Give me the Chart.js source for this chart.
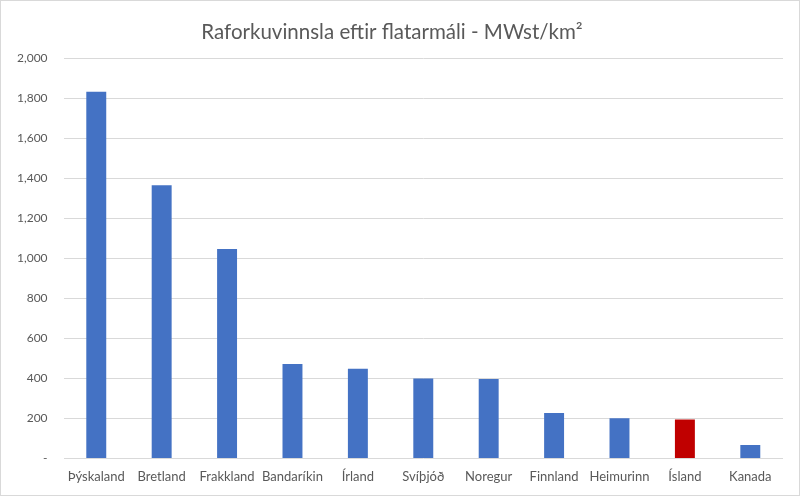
<!DOCTYPE html>
<html>
<head>
<meta charset="utf-8">
<script src="https://cdn.jsdelivr.net/npm/chart.js@4"></script>
<style>
  html, body { margin: 0; padding: 0; background: #fff; }
  #wrap { width: 798px; height: 494px; border: 1px solid #d9d9d9; }
  canvas { display: block; }
</style>
</head>
<body>
<div id="wrap"><canvas id="chart" width="798" height="494"></canvas></div>
<script>
// Power generation per area, MWh/km2
const countries = ['Þýskaland', 'Bretland', 'Frakkland', 'Bandaríkin', 'Írland', 'Svíþjóð',
    'Noregur', 'Finnland', 'Heimurinn', 'Ísland', 'Kanada'];
const values = [1834, 1367, 1048, 472, 449, 400, 397, 227, 201, 195, 67];
const barColors = countries.map(c => c === 'Ísland' ? '#C00000' : '#4472C4');

const TEXT = '#595959';
const GRID = '#d9d9d9';
const FONT = "Lato, 'Open Sans', sans-serif";

const ctx = document.getElementById('chart').getContext('2d');

new Chart(ctx, {
    type: 'bar',
    data: {
        labels: countries,
        datasets: [{
            data: values,
            backgroundColor: barColors,
            borderWidth: 0,
            barPercentage: 1,
            categoryPercentage: 0.305,
        }]
    },
    options: {
        responsive: false,
        animation: false,
        layout: { padding: { left: 0, right: 16, top: 8, bottom: 7 } },
        plugins: {
            legend: { display: false },
            tooltip: { enabled: false },
            title: {
                display: true,
                text: 'Raforkuvinnsla eftir flatarmáli - MWst/km²',
                color: TEXT,
                font: { family: FONT, size: 20.5, weight: 'normal' },
                padding: { top: 11, bottom: 14 }
            }
        },
        scales: {
            x: {
                grid: { display: false },
                border: { display: false },
                ticks: { color: TEXT, font: { family: FONT, size: 13 }, padding: 3, maxRotation: 0, autoSkip: false }
            },
            y: {
                min: 0,
                max: 2000,
                grid: { color: GRID, lineWidth: 1, drawTicks: false },
                border: { display: false },
                ticks: {
                    stepSize: 200,
                    color: TEXT,
                    font: { family: FONT, size: 12 },
                    padding: 16,
                    callback: v => v === 0 ? '-' : v.toLocaleString('en-US')
                }
            }
        }
    }
});
</script>
</body>
</html>
